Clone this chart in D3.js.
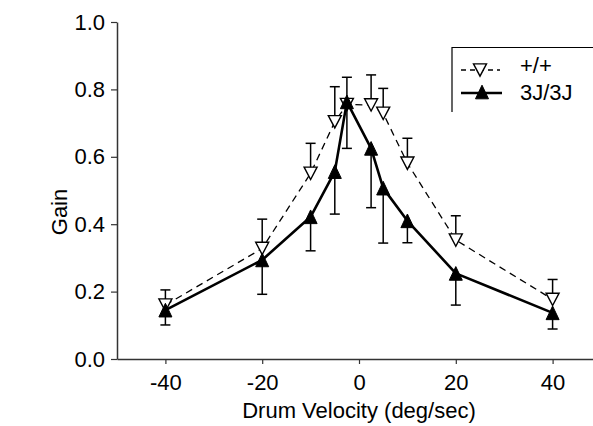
<!DOCTYPE html>
<html>
<head>
<meta charset="utf-8">
<script src="https://cdn.jsdelivr.net/npm/d3@7"></script>
<style>
  html, body { margin: 0; padding: 0; background: #fff; }
  svg text { font-family: "Liberation Sans", Arial, sans-serif; fill: #000; }
</style>
</head>
<body>
<svg id="chart" width="593" height="426"></svg>
<script>
// ---- data ----
const velocities = [-40, -20, -10, -5, -2.5, 2.5, 5, 10, 20, 40];
const wtGain     = [0.160, 0.328, 0.551, 0.704, 0.755, 0.754, 0.729, 0.581, 0.353, 0.177];
const wtSem      = [0.045, 0.087, 0.089, 0.104, 0.081, 0.089, 0.074, 0.074, 0.072, 0.059];
const mutGain    = [0.145, 0.294, 0.422, 0.556, 0.763, 0.625, 0.507, 0.410, 0.254, 0.137];
const mutSem     = [0.044, 0.102, 0.101, 0.126, 0.138, 0.176, 0.163, 0.065, 0.094, 0.048];
const xTicks = [-40, -20, 0, 20, 40];
const yTicks = [0.0, 0.2, 0.4, 0.6, 0.8, 1.0];
const seriesNames = ["+/+", "3J/3J"];
const xTitle = "Drum Velocity (deg/sec)";
const yTitle = "Gain";

// ---- chart ----
const svg = d3.select("#chart");
const x = d3.scaleLinear().domain([-50, 50]).range([117, 601]);
const y = d3.scaleLinear().domain([0, 1]).range([359, 22]);

const fontSize = 22;

// axes
const xAxis = d3.axisBottom(x).tickValues(xTicks).tickSize(5).tickSizeOuter(0).tickPadding(10)
  .tickFormat(d3.format("d"));
const gx = svg.append("g").attr("transform", `translate(0,${y(0)})`).call(xAxis);
gx.select(".domain").attr("stroke", "#333").attr("stroke-width", 1.5);
gx.selectAll(".tick line").attr("stroke", "#333").attr("stroke-width", 1.2);
gx.selectAll(".tick text").style("font-size", fontSize + "px").attr("font-family", "Liberation Sans, Arial, sans-serif")
  .text(d => d < 0 ? "-" + Math.abs(d) : d);

const yAxis = d3.axisLeft(y).tickValues(yTicks).tickSize(6).tickSizeOuter(0).tickPadding(6)
  .tickFormat(d3.format(".1f"));
const gy = svg.append("g").attr("transform", `translate(${x(-50)},0)`).call(yAxis);
gy.select(".domain").attr("stroke", "#333").attr("stroke-width", 1.5);
gy.selectAll(".tick line").attr("stroke", "#333").attr("stroke-width", 1.2);
gy.selectAll(".tick text").style("font-size", fontSize + "px").attr("font-family", "Liberation Sans, Arial, sans-serif");

svg.append("text").attr("x", x(0)).attr("y", 418).attr("text-anchor", "middle")
  .style("font-size", fontSize + "px").text(xTitle);
svg.append("text").attr("transform", `translate(67,212) rotate(-90)`).attr("text-anchor", "middle")
  .style("font-size", fontSize + "px").text(yTitle);

const wt = velocities.map((v, i) => ({ v, g: wtGain[i], e: wtSem[i] }));
const mut = velocities.map((v, i) => ({ v, g: mutGain[i], e: mutSem[i] }));

const line = d3.line().x(d => x(d.v)).y(d => y(d.g));
const capW = 5;

function downTri(s) { // pointing down, centered
  const h = s * 0.95;
  return `M${-s/2},${-h/2}L${s/2},${-h/2}L0,${h/2}Z`;
}
function upTri(s) {
  const h = s * 1.05;
  return `M${-s/2},${h/2}L${s/2},${h/2}L0,${-h/2}Z`;
}

// wild type: dashed line, upper error bars, open down triangles
svg.append("path").datum(wt).attr("d", line).attr("fill", "none")
  .attr("stroke", "#000").attr("stroke-width", 1.3).attr("stroke-dasharray", "7,5");
const wtErr = svg.append("g").selectAll("g").data(wt).join("g").attr("stroke", "#000").attr("stroke-width", 1.5);
wtErr.append("line").attr("x1", d => x(d.v)).attr("x2", d => x(d.v)).attr("y1", d => y(d.g)).attr("y2", d => y(d.g + d.e));
wtErr.append("line").attr("x1", d => x(d.v) - capW).attr("x2", d => x(d.v) + capW).attr("y1", d => y(d.g + d.e)).attr("y2", d => y(d.g + d.e));
svg.append("g").selectAll("path").data(wt).join("path")
  .attr("transform", d => `translate(${x(d.v)},${y(d.g)})`)
  .attr("d", downTri(13)).attr("fill", "#fff").attr("stroke", "#000").attr("stroke-width", 1.4);

// mutant: solid line, lower error bars, filled up triangles
svg.append("path").datum(mut).attr("d", line).attr("fill", "none")
  .attr("stroke", "#000").attr("stroke-width", 2.6).attr("stroke-linejoin", "round");
const mutErr = svg.append("g").selectAll("g").data(mut).join("g").attr("stroke", "#000").attr("stroke-width", 1.5);
mutErr.append("line").attr("x1", d => x(d.v)).attr("x2", d => x(d.v)).attr("y1", d => y(d.g)).attr("y2", d => y(d.g - d.e));
mutErr.append("line").attr("x1", d => x(d.v) - capW).attr("x2", d => x(d.v) + capW).attr("y1", d => y(d.g - d.e)).attr("y2", d => y(d.g - d.e));
svg.append("g").selectAll("path").data(mut).join("path")
  .attr("transform", d => `translate(${x(d.v)},${y(d.g)})`)
  .attr("d", upTri(13)).attr("fill", "#000").attr("stroke", "#000").attr("stroke-width", 1);

// legend
const lg = svg.append("g");
lg.append("path").attr("d", "M452,112V47.5H600").attr("fill", "none").attr("stroke", "#000").attr("stroke-width", 1.2);
lg.append("line").attr("x1", 461).attr("x2", 500).attr("y1", 70).attr("y2", 70)
  .attr("stroke", "#000").attr("stroke-width", 1.3).attr("stroke-dasharray", "5,4");
lg.append("path").attr("transform", "translate(480,70)").attr("d", downTri(13))
  .attr("fill", "#fff").attr("stroke", "#000").attr("stroke-width", 1.4);
lg.append("text").attr("x", 520).attr("y", 65).attr("dy", "0.35em").style("font-size", fontSize + "px").text(seriesNames[0]);
lg.append("line").attr("x1", 461).attr("x2", 502).attr("y1", 93).attr("y2", 93)
  .attr("stroke", "#000").attr("stroke-width", 2.6);
lg.append("path").attr("transform", "translate(482,92)").attr("d", upTri(13))
  .attr("fill", "#000").attr("stroke", "#000").attr("stroke-width", 1);
lg.append("text").attr("x", 520).attr("y", 92).attr("dy", "0.35em").style("font-size", fontSize + "px").text(seriesNames[1]);
</script>
</body>
</html>
